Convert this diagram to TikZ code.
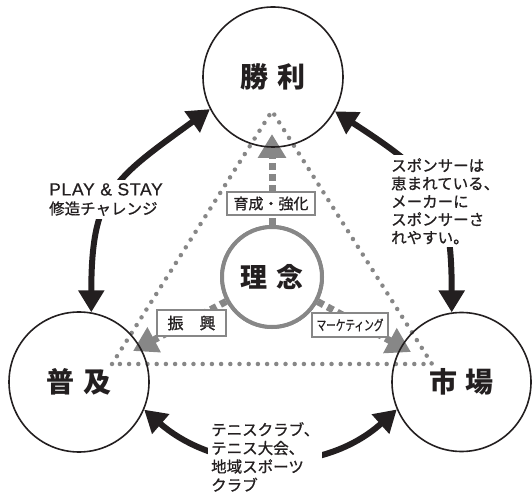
\documentclass[tikz,border=0pt]{standalone}
\usepackage{fontspec}
\usepackage{graphicx}
\usetikzlibrary{arrows.meta}
\newfontfamily\jp{Noto Sans CJK JP}
\newfontfamily\jpm[FakeBold=0.9]{Noto Sans CJK JP}
\newfontfamily\lat[LetterSpace=4,FakeBold=0.7]{Liberation Sans}
\definecolor{ink}{HTML}{231F20}
\definecolor{gr}{HTML}{878787}
\tikzset{
  bigc/.style={circle, draw=ink, line width=1.6pt, minimum size=140pt, inner sep=0pt,
    font=\jp\bfseries\fontsize{28}{30}\selectfont, text=ink},
  midc/.style={circle, draw=gr, line width=4pt, minimum size=100pt, inner sep=0pt, fill=white,
    font=\jp\bfseries\fontsize{27}{30}\selectfont, text=ink},
  dotl/.style={draw=gr, line width=4.5pt, line cap=round, dash pattern=on 0pt off 9.2pt},
  grayarr/.style={draw=gr, line width=7pt, dash pattern=on 6.5pt off 4.5pt,
    -{Triangle[length=24pt,width=27pt]}},
  lbox/.style={draw=gr, line width=2.2pt, fill=white, inner sep=0pt, text=ink,
    font=\jpm\fontsize{15}{17}\selectfont},
  bigarr/.style={draw=ink, line width=6pt,
    {Triangle[length=22pt,width=25pt]}-{Triangle[length=22pt,width=25pt]}},
  txt/.style={fill=white, inner sep=3pt, align=left, text=ink, anchor=north west}
}
\begin{document}
\begin{tikzpicture}[x=1pt,y=1pt]
\useasboundingbox (0,0) rectangle (532,495);
% dotted triangle
\coordinate (tA) at (272,384);
\coordinate (tL) at (112,131);
\coordinate (tR) at (432,131);
\draw[dotl] (tL) -- (tA) -- (tR) -- cycle;
% centre circle
\node[midc] (rinen) at (272,218) {理\hspace{9pt}念};
% gray arrows
\coordinate (tipT) at (272,361);
\coordinate (tipL) at (133,144);
\coordinate (tipR) at (411,143);
\draw[grayarr] (rinen) -- (tipT);
\draw[grayarr] (rinen) -- (tipL);
\draw[grayarr] (rinen) -- (tipR);
\node[midc] at (rinen) {理\hspace{9pt}念};
% label boxes
\node[lbox, minimum width=88pt, minimum height=23pt] (b1) at (271,291.5) {育成・強化};
\node[lbox, minimum width=69pt, minimum height=26pt, font=\jpm\fontsize{16}{18}\selectfont] (b2) at (191.5,172) {振　興};
\node[lbox, minimum width=76pt, minimum height=24pt] (b3) at (350,170) {\scalebox{0.69}[1]{\fontsize{14}{16}\selectfont マーケティング}};
% big circles
\node[bigc] (shouri) at (273,418) {勝\hspace{9pt}利};
\node[bigc] (pufu) at (79,113) {普\hspace{9pt}及};
\node[bigc, minimum size=139pt] (ichiba) at (461.5,113) {市\hspace{9pt}場};
% black arcs
\draw[bigarr] (pufu.80) to[out=90, in=216, looseness=1.3] (shouri.207);
\draw[bigarr] (shouri.-29) to[out=-33, in=90, looseness=1.3] (ichiba.98);
\draw[bigarr] (pufu.-23) to[out=-41, in=-138] (ichiba.203);
% texts
\node[txt, font=\jpm\fontsize{15.5}{19}\selectfont] (t1) at (46,315)
  {{\lat\fontsize{17.5}{19}\selectfont PLAY \& STAY}\\修造チャレンジ};
\node[txt, font=\jpm\fontsize{15.5}{18}\selectfont] (t2) at (388,340)
  {スポンサーは\\恵まれている、\\メーカーに\\スポンサーさ\\れやすい。};
\node[txt, font=\jpm\fontsize{15.5}{18.5}\selectfont] (t3) at (208,76)
  {テニスクラブ、\\テニス大会、\\地域スポーツ\\クラブ};
\end{tikzpicture}
\end{document}
